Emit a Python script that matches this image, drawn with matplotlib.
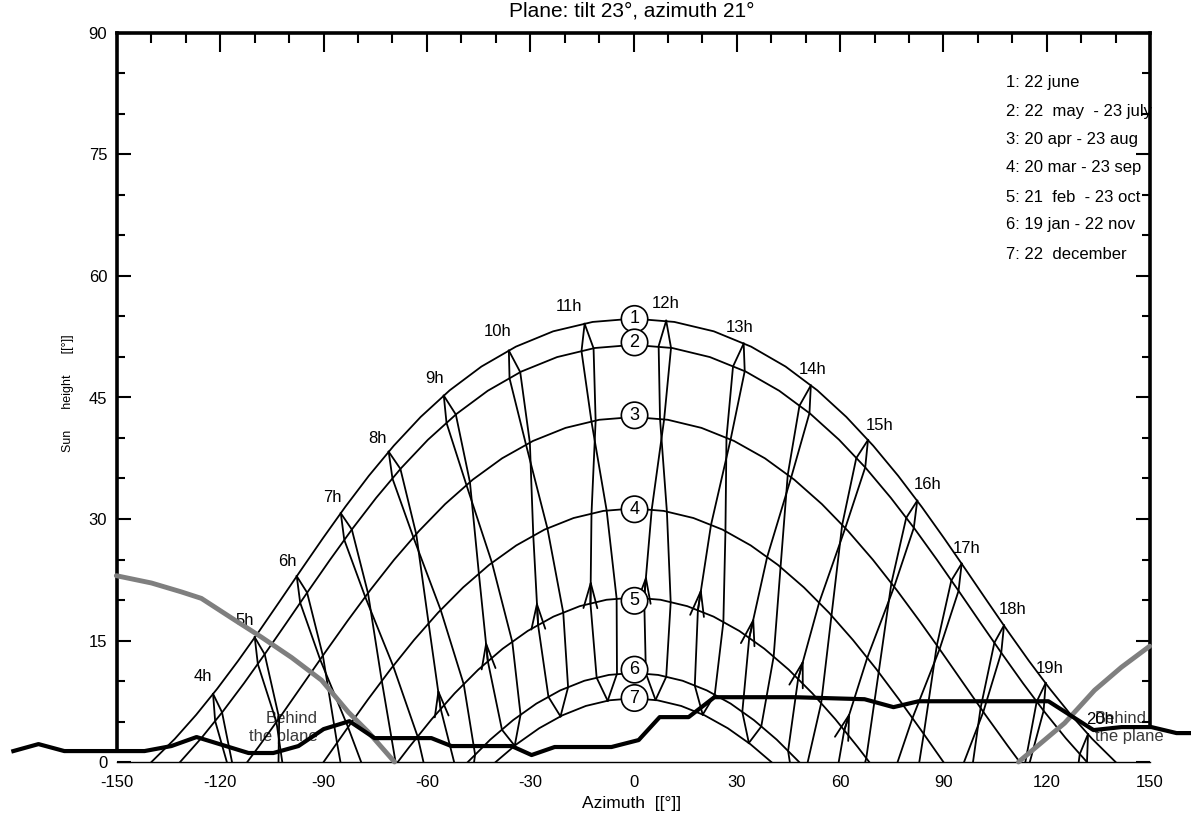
import numpy as np
import matplotlib
matplotlib.use("Agg")
import matplotlib.pyplot as plt

plt.rcParams['font.family'] = ['Liberation Sans', 'DejaVu Sans']
plt.rcParams['axes.unicode_minus'] = False

# Sun paths (afternoon half, azimuth / height in degrees); morning half is the mirror image
c1_az = [0, 11.85, 23.33, 34.15, 44.17, 53.37, 61.81, 69.61, 76.87, 83.72, 90.24, 96.55,
         102.70, 108.76, 114.81, 120.87, 127.00, 133.22, 140.0]
c1_alt = [54.74, 54.33, 53.17, 51.28, 48.82, 45.89, 42.60, 39.05, 35.33, 31.49, 27.60, 23.71,
          19.87, 16.12, 12.50, 9.06, 5.83, 2.85, 0]
c2_az = [0, 11.25, 22.19, 32.60, 42.33, 51.35, 59.71, 67.47, 74.74, 81.63, 88.21, 94.59,
         100.82, 106.97, 113.12, 119.28, 125.53, 131.67]
c2_alt = [51.50, 51.11, 49.99, 48.20, 45.83, 42.99, 39.78, 36.29, 32.61, 28.80, 24.92, 21.02,
          17.16, 13.39, 9.72, 6.23, 2.94, 0]
c3_az = [0, 9.96, 19.73, 29.17, 38.17, 46.68, 54.71, 62.30, 69.52, 76.42, 83.07, 89.56,
         95.93, 102.25, 108.60, 112.16]
c3_alt = [42.59, 42.25, 41.25, 39.64, 37.49, 34.86, 31.84, 28.52, 24.97, 21.24, 17.41, 13.53,
          9.64, 5.79, 2.04, 0]
c4_az = [0, 8.76, 17.41, 25.86, 34.04, 41.92, 49.49, 56.75, 63.74, 70.51, 77.10, 83.58, 90]
c4_alt = [31.30, 31.00, 30.12, 28.69, 26.74, 24.34, 21.55, 18.44, 15.06, 11.47, 7.73, 3.89, 0]
c5_az = [0, 7.84, 15.61, 23.25, 30.73, 38.01, 45.08, 51.94, 58.62, 65.14, 68.46]
c5_alt = [20.30, 20.03, 19.24, 17.95, 16.18, 13.98, 11.40, 8.48, 5.28, 1.84, 0]
c6_az = [0, 7.16, 14.27, 21.29, 28.21, 34.97, 41.60, 48.10]
c6_alt = [11.00, 10.75, 10.03, 8.84, 7.21, 5.17, 2.76, 0]
c7_az = [0, 6.94, 13.84, 20.66, 27.38, 33.98, 40.02]
c7_alt = [7.86, 7.62, 6.92, 5.76, 4.17, 2.19, 0]

curve_ids = ['1', '2', '3', '4', '5', '6', '7']
circle_alt = [54.7, 51.8, 42.8, 31.2, 19.9, 11.4, 7.9]

# sun position at each clock hour, per date
hours = list(range(4, 21))
jun_az = [-122.1, -110.0, -97.8, -85.0, -71.1, -55.1, -36.2, -14.2, 9.5, 32.0, 51.5, 68.1, 82.4, 95.3, 107.6, 119.7, 132.0]
jun_alt = [8.41, 15.40, 22.94, 30.71, 38.31, 45.23, 50.79, 54.10, 54.48, 51.66, 46.48, 39.76, 32.26, 24.49, 16.87, 9.75, 3.45]
may_az = [-119.5, -107.1, -94.8, -81.8, -67.7, -51.6, -32.9, -11.6, 10.9, 32.3, 51.1, 67.3, 81.4, 94.4, 106.8, 119.1, None]
may_alt = [6.14, 13.29, 20.92, 28.70, 36.19, 42.90, 48.14, 51.08, 51.13, 48.25, 43.07, 36.38, 28.90, 21.13, 13.49, 6.32, None]
jul_az = [-121.5, -109.1, -96.8, -84.0, -70.0, -54.3, -36.0, -15.1, 7.3, 28.9, 48.2, 64.7, 79.2, 92.3, 104.8, 117.1, 129.6]
jul_alt = [5.07, 12.09, 19.66, 27.43, 34.99, 41.86, 47.36, 50.71, 51.35, 48.83, 43.99, 37.52, 30.14, 22.40, 14.72, 7.46, 0.97]
apr_az = [None, -102.9, -90.2, -77.1, -63.1, -47.5, -30.1, -11.0, 8.9, 28.2, 45.8, 61.5, 75.7, 88.9, 101.6, None, None]
apr_alt = [None, 5.39, 13.11, 20.83, 28.14, 34.54, 39.41, 42.14, 42.32, 39.81, 35.14, 28.88, 21.64, 13.94, 6.20, None, None]
aug_az = [None, -103.7, -91.0, -77.9, -63.9, -48.5, -31.2, -12.2, 7.7, 27.0, 44.8, 60.6, 74.9, 88.1, 100.8, None, None]
aug_alt = [None, 4.94, 12.65, 20.37, 27.71, 34.17, 39.15, 42.02, 42.39, 40.01, 35.46, 29.27, 22.09, 14.41, 6.66, None, None]
mar_az = [None, None, -86.1, -73.1, -59.5, -44.9, -29.1, -12.2, 5.3, 22.5, 38.8, 53.9, 67.9, 81.0, None, None, None]
mar_alt = [None, None, 2.36, 10.00, 17.11, 23.24, 27.92, 30.65, 31.19, 29.25, 25.28, 19.66, 12.88, 5.40, None, None, None]
sep_az = [None, None, -82.9, -69.8, -56.0, -41.1, -25.0, -7.8, 9.7, 26.7, 42.7, 57.5, 71.2, 84.3, None, None, None]
sep_alt = [None, None, 4.30, 11.85, 18.77, 24.60, 28.84, 31.06, 30.91, 28.48, 24.04, 18.08, 11.07, 3.47, None, None, None]
feb_az = [None, None, None, None, -56.0, -42.3, -27.7, -12.5, 3.1, 18.7, 33.6, 47.8, 61.2, None, None, None, None]
feb_alt = [None, None, None, None, 6.56, 12.43, 16.89, 19.56, 20.26, 18.72, 15.30, 10.23, 3.90, None, None, None, None]
oct_az = [None, None, None, -62.7, -49.3, -35.2, -20.4, -4.9, 10.8, 26.1, 40.7, 54.5, 67.6, None, None, None, None]
oct_alt = [None, None, None, 3.15, 9.59, 14.82, 18.44, 20.19, 19.73, 17.28, 13.00, 7.26, 0.48, None, None, None, None]
jan_az = [None, None, None, None, None, -38.2, -24.7, -10.7, 3.6, 17.8, 31.6, 44.9, None, None, None, None, None]
jan_alt = [None, None, None, None, None, 3.98, 8.04, 10.40, 10.94, 9.43, 6.18, 1.37, None, None, None, None, None]
nov_az = [None, None, None, None, -46.0, -32.8, -19.0, -4.8, 9.5, 23.6, 37.1, None, None, None, None, None, None]
nov_alt = [None, None, None, None, 0.91, 5.84, 9.23, 10.89, 10.51, 8.31, 4.38, None, None, None, None, None, None]
dec_az = [None, None, None, None, None, -34.5, -21.2, -7.5, 6.4, 20.1, 33.5, None, None, None, None, None, None]
dec_alt = [None, None, None, None, None, 2.00, 5.63, 7.56, 7.66, 5.85, 2.35, None, None, None, None, None, None]
# azimuth where the hour line meets the horizon (None: it ends on the 22 december path)
end_a_az = [-116.6, -103.1, -85.1, -69.1, -52.1, None, None, None, None, None, None, 45.4, 59.6, 76.7, 96.0, 115.1, 131.7]
end_b_az = [-118.1, -102.0, -79.1, -61.0, -46.3, None, None, None, None, None, None, 50.6, 67.3, 83.0, 98.6, 113.8, 129.3]

hour_label_az = [-125.0, -113.0, -100.6, -87.5, -74.4, -57.9, -39.5, -18.7, 9.4, 30.8, 52.1, 71.6, 85.5, 96.6, 110.2, 121.0, 135.6]
hour_label_alt = [10.5, 17.5, 24.8, 32.6, 40.0, 47.4, 53.1, 56.2, 56.6, 53.6, 48.5, 41.6, 34.2, 26.4, 18.8, 11.6, 5.2]

arrow_hours = [8, 9, 10, 11, 12, 13, 14, 15, 16]
arrow_az = [-56.8, -42.9, -28.1, -12.4, 3.7, 19.7, 35.0, 49.4, 62.9]
arrow_alt = [9.1, 15.0, 19.9, 22.5, 23.1, 21.5, 17.9, 12.7, 6.2]

# horizon profile
horizon_az = [-180.1, -172.8, -165.3, -150.2, -142.0, -134.2, -126.9, -111.8, -104.6, -97.3, -90.0,
              -82.5, -75.2, -58.7, -52.9, -35.4, -29.6, -22.9, -6.4, 1.5, 7.6, 16.0, 23.5, 46.8,
              67.1, 75.5, 82.8, 120.5, 133.6, 141.7, 150.4, 157.7, 162.4]
horizon_alt = [1.35, 2.21, 1.35, 1.35, 1.35, 1.97, 3.08, 1.11, 1.11, 1.97, 4.06,
               5.04, 2.95, 2.95, 1.97, 1.97, 0.86, 1.85, 1.85, 2.71, 5.54, 5.54, 8.0, 8.0,
               7.75, 6.77, 7.50, 7.50, 3.94, 4.31, 4.31, 3.57, 3.57]

# limit of the plane (sun behind it)
plane_left_az = [-150.2, -140.0, -131.3, -125.5, -116.8, -108.0, -99.3, -90.6, -82.8, -77.0, -69.4]
plane_left_alt = [23.0, 22.1, 21.0, 20.2, 17.8, 15.4, 12.9, 10.1, 6.15, 3.69, 0]
plane_right_az = [111.8, 125.2, 133.9, 141.7, 149.9]
plane_right_alt = [0, 4.8, 8.86, 11.7, 14.3]

legend_lines = ['1: 22 june', '2: 22  may  - 23 july', '3: 20 apr - 23 aug', '4: 20 mar - 23 sep',
                '5: 21  feb  - 23 oct', '6: 19 jan - 22 nov', '7: 22  december']
legend_alt = [83.9, 80.3, 76.8, 73.4, 69.7, 66.3, 62.7]

fig = plt.figure(figsize=(11.91, 8.21), dpi=100)
ax = fig.add_axes([117 / 1191, 59 / 821, (1150 - 117) / 1191, (762 - 33) / 821])
ax.set_xlim(-150, 150)
ax.set_ylim(0, 90)

# date curves
curves = [(c1_az, c1_alt), (c2_az, c2_alt), (c3_az, c3_alt), (c4_az, c4_alt),
          (c5_az, c5_alt), (c6_az, c6_alt), (c7_az, c7_alt)]
for az, alt in curves:
    az = np.array(az)
    alt = np.array(alt)
    x = np.concatenate([-az[::-1], az[1:]])
    y = np.concatenate([alt[::-1], alt[1:]])
    ax.plot(x, y, color='black', lw=1.3, zorder=2)

# hour lines, one for each half of the year
branch_a = [(jun_az, jun_alt), (may_az, may_alt), (apr_az, apr_alt), (mar_az, mar_alt),
            (feb_az, feb_alt), (jan_az, jan_alt), (dec_az, dec_alt)]
branch_b = [(jun_az, jun_alt), (jul_az, jul_alt), (aug_az, aug_alt), (sep_az, sep_alt),
            (oct_az, oct_alt), (nov_az, nov_alt), (dec_az, dec_alt)]
for branch, ends in [(branch_a, end_a_az), (branch_b, end_b_az)]:
    for i, h in enumerate(hours):
        xs = [az[i] for az, alt in branch if az[i] is not None]
        ys = [alt[i] for az, alt in branch if az[i] is not None]
        if ends[i] is not None:
            xs.append(ends[i])
            ys.append(0)
        ax.plot(xs, ys, color='black', lw=1.3, zorder=2)

for i, h in enumerate(arrow_hours):
    j = hours.index(h)
    ax.annotate('', xy=(arrow_az[i], arrow_alt[i]), xytext=(feb_az[j], feb_alt[j]),
                arrowprops=dict(arrowstyle='->,head_length=1.8,head_width=0.5', color='black',
                                lw=1.3, shrinkA=0, shrinkB=0), zorder=3)

for i, h in enumerate(hours):
    ax.text(hour_label_az[i], hour_label_alt[i], f'{h}h', fontsize=12, ha='center', va='center')

for k, a in zip(curve_ids, circle_alt):
    ax.text(0.3, a, k, fontsize=13, ha='center', va='center', zorder=6,
            bbox=dict(boxstyle='circle,pad=0.26', fc='white', ec='black', lw=1.2))

ax.plot(plane_left_az, plane_left_alt, color='#7f7f7f', lw=3.5, zorder=4, clip_on=False,
        solid_capstyle='round')
ax.plot(plane_right_az, plane_right_alt, color='#7f7f7f', lw=3.5, zorder=4, clip_on=False,
        solid_capstyle='round')
ax.plot(horizon_az, horizon_alt, color='black', lw=3, zorder=5, clip_on=False)

ax.text(-91.7, 4.3, 'Behind\nthe plane', fontsize=12, color='#3a3a3a', ha='right', va='center',
        linespacing=1.25, zorder=1)
ax.text(134.0, 4.3, 'Behind\nthe plane', fontsize=12, color='#3a3a3a', ha='left', va='center',
        linespacing=1.25, zorder=1)

for txt, a in zip(legend_lines, legend_alt):
    ax.text(108.3, a, txt, fontsize=12, ha='left', va='center')

# axes frame and ticks
for side in ['left', 'top', 'right']:
    ax.spines[side].set_linewidth(2.6)
ax.spines['bottom'].set_linewidth(1.0)
ax.spines['left'].set_bounds(1.35, 90)
ax.spines['right'].set_bounds(4.3, 90)

ax.set_xticks(range(-150, 151, 30))
ax.set_xticks(range(-150, 151, 10), minor=True)
ax.set_yticks(range(0, 91, 15))
ax.set_yticks(range(0, 91, 5), minor=True)
ax.tick_params(axis='x', which='both', direction='in', top=True, bottom=False, labelsize=12, pad=9)
ax.tick_params(axis='x', which='major', length=14, width=1.5)
ax.tick_params(axis='x', which='minor', length=7, width=1.5)
ax.tick_params(axis='y', which='both', direction='in', left=True, right=True, labelsize=12, pad=7)
ax.tick_params(axis='y', which='major', length=10, width=1.5)
ax.tick_params(axis='y', which='minor', length=6, width=1.5)

fig.text(632 / 1191, 1 - 11 / 821, 'Plane: tilt 23°, azimuth 21°', fontsize=15, ha='center', va='center')
fig.text(632 / 1191, 1 - 803 / 821, 'Azimuth  [[°]]', fontsize=12.5, ha='center', va='center')
fig.text(68 / 1191, 1 - 393 / 821, 'Sun      height      [[°]]', fontsize=9, rotation=90,
         ha='center', va='center')

fig.savefig('out.png', dpi=100)
